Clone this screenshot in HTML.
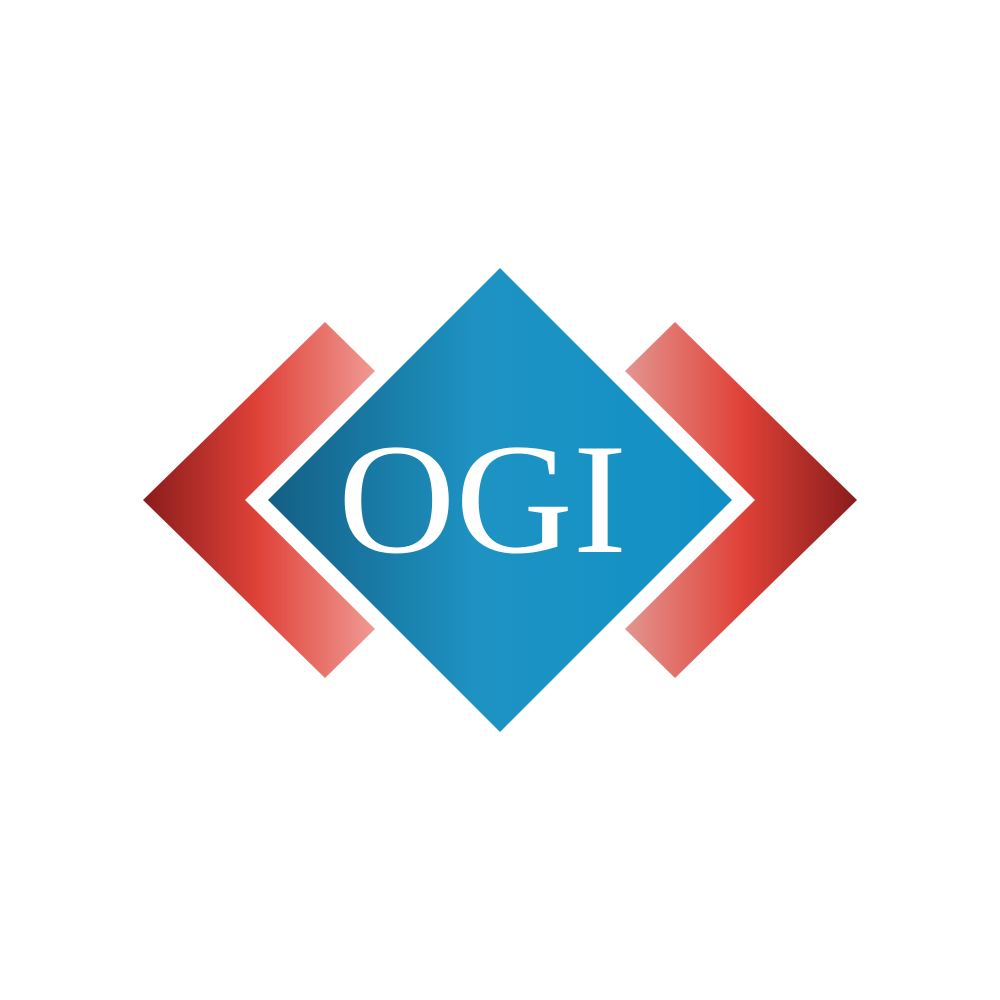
<!DOCTYPE html>
<html>
<head>
<meta charset="utf-8">
<style>
  html,body{margin:0;padding:0;background:#fff;}
  svg{display:block;}
</style>
</head>
<body>
<svg width="1000" height="1000" viewBox="0 0 1000 1000">
  <defs>
    <linearGradient id="blueGrad" x1="268" y1="0" x2="732" y2="0" gradientUnits="userSpaceOnUse">
      <stop offset="0" stop-color="#135f84"/>
      <stop offset="0.45" stop-color="#1e93c3"/>
      <stop offset="1" stop-color="#1190c6"/>
    </linearGradient>
    <linearGradient id="leftGrad" x1="143" y1="0" x2="375" y2="0" gradientUnits="userSpaceOnUse">
      <stop offset="0" stop-color="#8a1c1c"/>
      <stop offset="0.5" stop-color="#e04238"/>
      <stop offset="1" stop-color="#ef9a94"/>
    </linearGradient>
    <linearGradient id="rightGrad" x1="857" y1="0" x2="625" y2="0" gradientUnits="userSpaceOnUse">
      <stop offset="0" stop-color="#8a1c1c"/>
      <stop offset="0.5" stop-color="#e04238"/>
      <stop offset="1" stop-color="#e39590"/>
    </linearGradient>
  </defs>
  <rect width="1000" height="1000" fill="#ffffff"/>
  <polygon points="325,322 375,371 245,500 375,629 325,678 143,500" fill="url(#leftGrad)"/>
  <polygon points="675,322 625,371 755,500 625,629 675,678 857,500" fill="url(#rightGrad)"/>
  <polygon points="500,268 732,500 500,732 268,500" fill="url(#blueGrad)"/>
  <text x="338" y="552" textLength="289" lengthAdjust="spacingAndGlyphs" font-family="Liberation Serif, serif" font-size="158" fill="#ffffff">OGI</text>
</svg>
</body>
</html>
